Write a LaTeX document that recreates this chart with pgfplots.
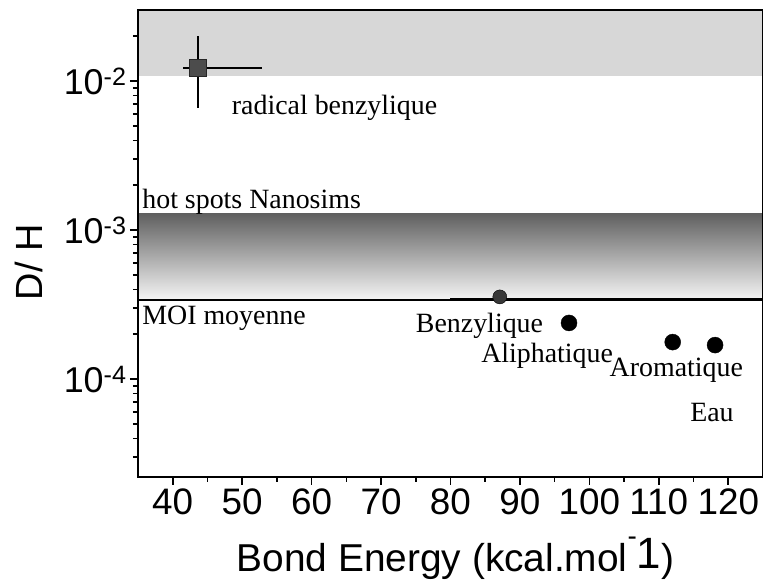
\documentclass[border=0pt]{standalone}
\usepackage{fontspec}
\setmainfont{Liberation Sans}
\newfontfamily\annfont{Liberation Serif}
\usepackage{pgfplots}
\pgfplotsset{compat=1.18}
\definecolor{bandtop}{RGB}{95,95,95}
\definecolor{bandbot}{RGB}{245,245,245}
\definecolor{upband}{RGB}{215,215,215}
\begin{document}
\begin{tikzpicture}
\useasboundingbox (-138bp,-110bp) rectangle (625bp,477bp);
\begin{axis}[
  at={(0,0)}, anchor=south west,
  scale only axis, width=625bp, height=467bp,
  xmin=35, xmax=125,
  ymode=log, ymin=2.2e-5, ymax=3e-2,
  xtick={40,50,...,120}, minor x tick num=1,
  ytick={1e-4,1e-3,1e-2},
  yticklabels={10\textsuperscript{-4},10\textsuperscript{-3},10\textsuperscript{-2}},
  minor ytick={3e-5,4e-5,5e-5,6e-5,7e-5,8e-5,9e-5,2e-4,3e-4,4e-4,5e-4,6e-4,7e-4,8e-4,9e-4,2e-3,3e-3,4e-3,5e-3,6e-3,7e-3,8e-3,9e-3,2e-2},
  tick pos=left, tick align=outside,
  major tick length=8bp, minor tick length=5bp,
  tick style={black, line width=1.6bp},
  axis line style={line width=2.5bp},
  /pgf/number format/assume math mode=true,
  xticklabel style={font=\fontsize{37}{40}\selectfont},
  yticklabel style={font=\fontsize{36}{40}\selectfont},
  xlabel style={font=\fontsize{39}{42}\selectfont, at={(axis description cs:0.508,0)}, anchor=base, yshift=-94bp},
  ylabel style={font=\fontsize{38}{42}\selectfont, at={(axis description cs:-0.175,0.46)}, anchor=center},
  xlabel={Bond Energy (kcal.mol\raisebox{26bp}{\fontsize{28}{28}\selectfont -}\raisebox{3bp}{\fontsize{44}{44}\selectfont 1})},
  ylabel={D/ H},
  axis on top,
]
% bands
\addplot[draw=none, fill=upband] coordinates {(35,1.074e-2) (125,1.074e-2) (125,3e-2) (35,3e-2)} -- cycle;
\addplot[draw=none, top color=bandtop, bottom color=bandbot] coordinates {(35,3.4e-4) (125,3.4e-4) (125,1.3e-3) (35,1.3e-3)} -- cycle;
% MOI moyenne line
\addplot[black, line width=1.5bp] coordinates {(35,3.4e-4) (80,3.4e-4)};
\addplot[black, line width=3bp] coordinates {(80,3.4e-4) (125,3.4e-4)};
% radical benzylique
\addplot[only marks, mark=square*, mark size=8.5bp,
  mark options={fill=black!70, draw=black!85, line width=0.8bp},
  error bars/.cd, x dir=both, x explicit, y dir=both, y explicit,
  error mark=none, error bar style={line width=2bp, black}]
  coordinates {(43.6,0.01225) += (9.3,0.0078) -= (2.1,0.00566)};
% Benzylique
\addplot[only marks, mark=*, mark size=7bp, mark options={fill=black!78, draw=black}]
  coordinates {(87.1,3.56e-4)};
% Aliphatique, Aromatique, Eau
\addplot[only marks, mark=*, mark size=8bp, mark options={fill=black, draw=black}]
  coordinates {(97.07,2.38e-4) (112.0,1.77e-4) (118.1,1.69e-4)};
% annotations
\begin{scope}[every node/.style={anchor=west, inner sep=0pt, font=\annfont\fontsize{28}{30}\selectfont}]
\node at (axis cs:48.5,6.6e-3) {radical benzylique};
\node at (axis cs:35.6,1.54e-3) {hot spots Nanosims};
\node at (axis cs:35.6,2.57e-4) {MOI moyenne};
\node at (axis cs:75.0,2.27e-4) {Benzylique};
\node at (axis cs:84.4,1.43e-4) {Aliphatique};
\node at (axis cs:102.9,1.15e-4) {Aromatique};
\node at (axis cs:114.5,6.0e-5) {Eau};
\end{scope}
\end{axis}
\end{tikzpicture}
\end{document}
